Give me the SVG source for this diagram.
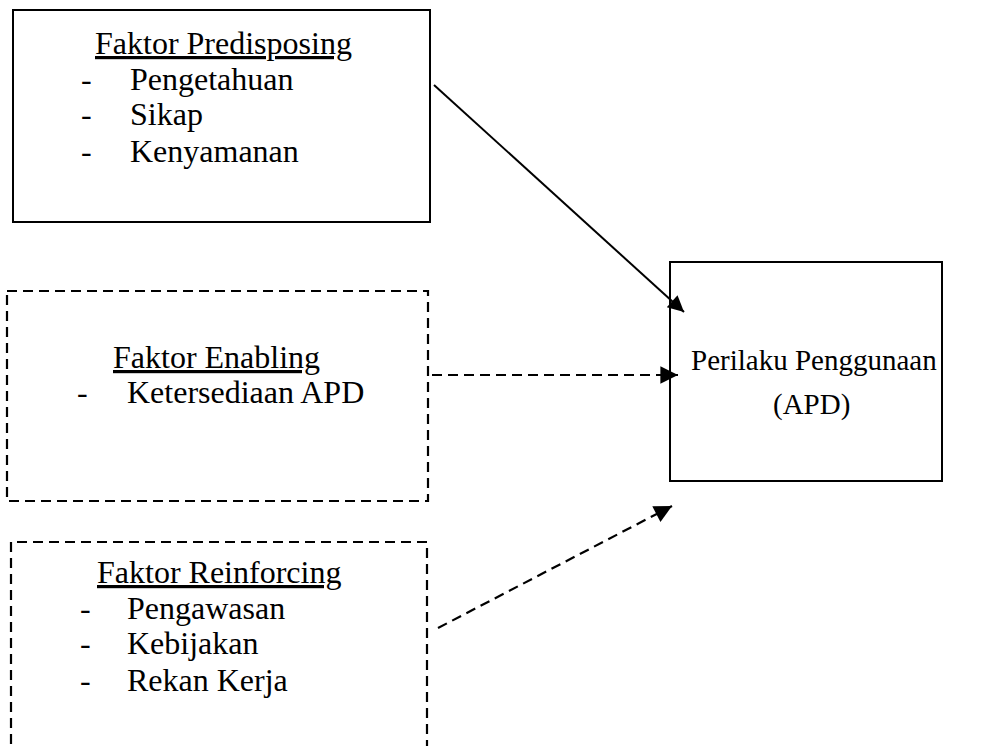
<svg xmlns="http://www.w3.org/2000/svg" width="1003" height="746" viewBox="0 0 1003 746">
<style>
.t{font-family:"Liberation Serif","Times New Roman",serif;font-size:32px;fill:#000}
.r{font-size:29px}
.u{text-decoration:underline}
.solid{fill:none;stroke:#000;stroke-width:2}
.dash{fill:none;stroke:#000;stroke-width:2.2;stroke-dasharray:10 6}
</style>
<defs>
<marker id="ah" viewBox="0 0 10 10" refX="10" refY="5" markerWidth="10" markerHeight="8" markerUnits="strokeWidth" orient="auto">
<path d="M0,0 L10,5 L0,10 z" fill="#000"/>
</marker>
</defs>
<rect width="1003" height="746" fill="#fff"/>
<g id="predisposing">
<rect class="solid" x="13" y="10" width="417" height="212"/>
<text class="t u" x="95" y="54">Faktor Predisposing</text>
<text class="t" x="81" y="90">-</text><text class="t" x="130" y="90">Pengetahuan</text>
<text class="t" x="81" y="125">-</text><text class="t" x="130" y="125">Sikap</text>
<text class="t" x="81" y="162">-</text><text class="t" x="130" y="162">Kenyamanan</text>
</g>
<g id="enabling">
<rect class="dash" x="7" y="291" width="421" height="210"/>
<text class="t u" x="113" y="368">Faktor Enabling</text>
<text class="t" x="77" y="403">-</text><text class="t" x="127" y="403">Ketersediaan APD</text>
</g>
<g id="reinforcing">
<path class="dash" d="M11,760 V542 H427 V760"/>
<text class="t u" x="97" y="583">Faktor Reinforcing</text>
<text class="t" x="80" y="619">-</text><text class="t" x="127" y="619">Pengawasan</text>
<text class="t" x="80" y="654">-</text><text class="t" x="127" y="654">Kebijakan</text>
<text class="t" x="80" y="691">-</text><text class="t" x="127" y="691">Rekan Kerja</text>
</g>
<g id="perilaku">
<rect class="solid" x="670" y="262" width="272" height="219"/>
<text class="t r" x="691" y="370">Perilaku Penggunaan</text>
<text class="t r" x="773" y="414">(APD)</text>
</g>
<g id="connectors">
<line class="solid" x1="434" y1="85" x2="684" y2="312" marker-end="url(#ah)"/>
<line class="dash" x1="432" y1="375" x2="678" y2="375" marker-end="url(#ah)"/>
<line class="dash" x1="438" y1="628" x2="672" y2="506" marker-end="url(#ah)"/>
</g>
</svg>
